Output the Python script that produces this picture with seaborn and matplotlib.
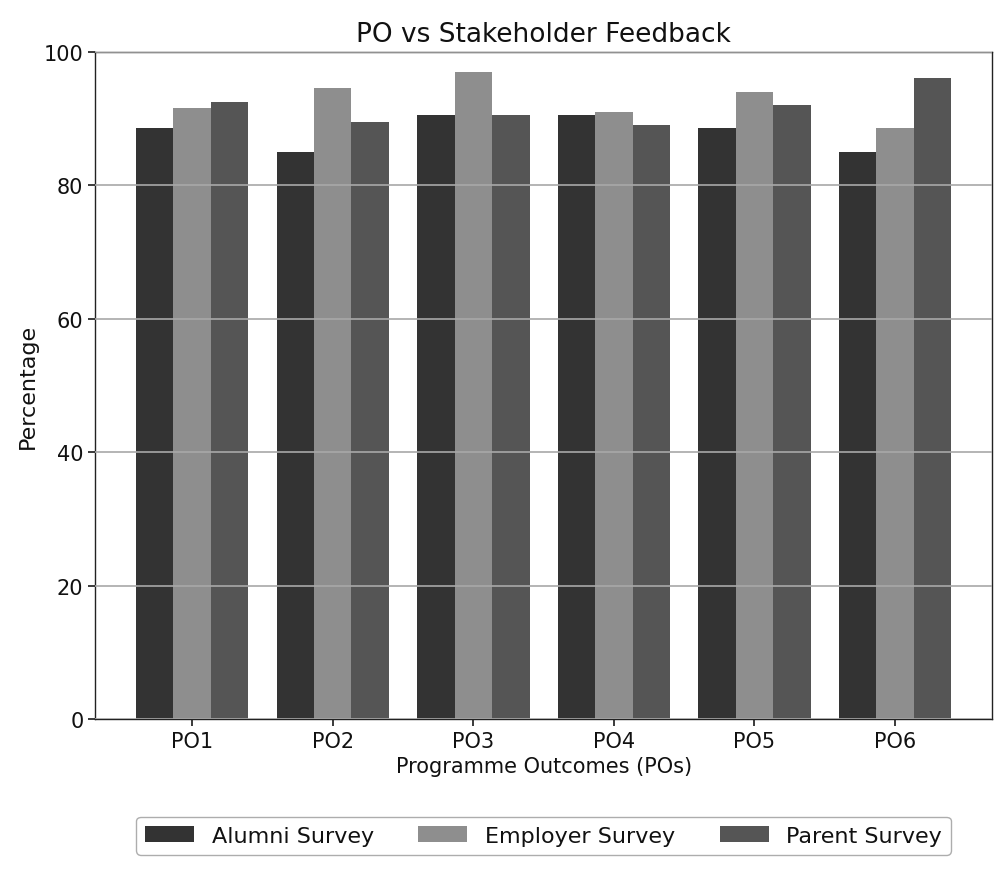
import matplotlib
matplotlib.use("Agg")
import matplotlib.pyplot as plt
import seaborn as sns
import pandas as pd

categories = ["PO1", "PO2", "PO3", "PO4", "PO5", "PO6"]
alumni = [88.5, 85.0, 90.5, 90.5, 88.5, 85.0]
employer = [91.5, 94.5, 97.0, 91.0, 94.0, 88.5]
parent = [92.5, 89.5, 90.5, 89.0, 92.0, 96.0]
series_names = ["Alumni Survey", "Employer Survey", "Parent Survey"]
yticks = [0, 20, 40, 60, 80, 100]

sns.set_theme(style="white")
plt.rcParams["font.family"] = ["DejaVu Sans"]
plt.rcParams["text.color"] = "#111111"
plt.rcParams["axes.labelcolor"] = "#111111"
plt.rcParams["xtick.color"] = "#111111"
plt.rcParams["ytick.color"] = "#111111"

rows = []
for name, vals in zip(series_names, [alumni, employer, parent]):
    for c, v in zip(categories, vals):
        rows.append({"PO": c, "Survey": name, "Percentage": v})
df = pd.DataFrame(rows)

fig = plt.figure(figsize=(10.02, 8.78), dpi=100)
ax = fig.add_axes([0.095, 0.18, 0.895, 0.76])
palette = ["#333333", "#8e8e8e", "#555555"]
sns.barplot(data=df, x="PO", y="Percentage", hue="Survey", order=categories,
            hue_order=series_names, palette=palette, width=0.8, saturation=1,
            edgecolor="none", ax=ax, legend=True)

ax.set_xlim(-0.69, 5.69)
ax.set_ylim(0, 100)
ax.set_yticks(yticks)
ax.yaxis.grid(True, color="#a8a8a8", linewidth=1.2)
ax.set_axisbelow(False)
for s in ax.spines.values():
    s.set_color("#222222")
    s.set_linewidth(1.0)
ax.tick_params(axis="both", labelsize=15, length=5, color="#222222", left=True, bottom=True)
ax.set_title("PO vs Stakeholder Feedback", fontsize=19, pad=8)
ax.set_xlabel("Programme Outcomes (POs)", fontsize=15)
ax.set_ylabel("Percentage", fontsize=16)

ax.legend(loc="upper center", bbox_to_anchor=(0.5, -0.13), ncol=3, fontsize=16,
          frameon=True, edgecolor="#999999", handlelength=2.2, columnspacing=2.0)

fig.savefig("out.png", dpi=100)
